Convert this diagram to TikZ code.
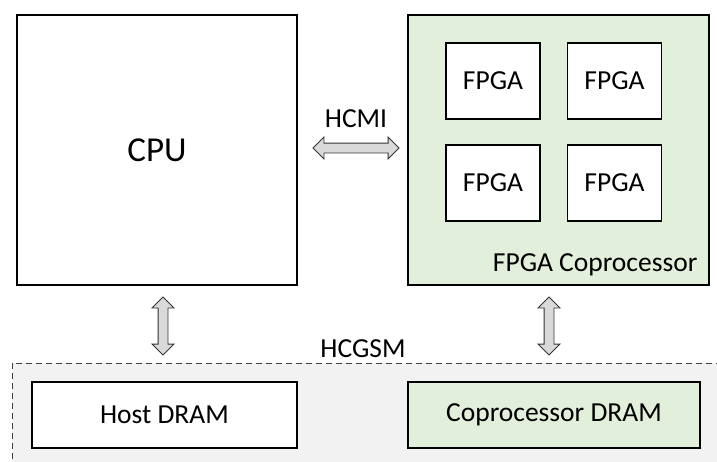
\documentclass[tikz,border=0pt]{standalone}
\usepackage{fontspec}
\setmainfont{Carlito}
\usetikzlibrary{shapes.arrows,calc,positioning}

\definecolor{copgreen}{HTML}{E2EFDA}
\definecolor{memgray}{HTML}{F2F2F2}
\definecolor{busgray}{HTML}{D9D9D9}

\begin{document}
\begin{tikzpicture}[
  x=1pt, y=-1pt,
  box/.style={draw=black, line width=1.2pt, fill=white, inner sep=0pt,
              font=\fontsize{27.5}{32}\selectfont},
  cop/.style={box, fill=copgreen},
  lbl/.style={font=\fontsize{27.5}{32}\selectfont, inner sep=0pt},
  bus/.style={double arrow, draw=black!80, fill=busgray, line width=0.9pt,
              inner xsep=0pt, inner ysep=4.5pt, minimum width=0pt,
              double arrow head extend=6pt, double arrow tip angle=90},
  vbus/.style={bus, inner xsep=4.5pt, inner ysep=0pt, shape border rotate=90}
]
\useasboundingbox (0,0) rectangle (717,461);
\clip (0,0) rectangle (717,461);
% shared memory region
\draw[fill=memgray, draw=black!75, line width=1pt, dash pattern=on 6pt off 4pt]
  (12,363) rectangle (740,490);
\node[lbl] (hcgsm) at (363,349) {HCGSM};
% host side
\node[box, minimum width=280, minimum height=270,
      font=\fontsize{35}{40}\selectfont] (cpu) at (157,150) {CPU};
\node[box, minimum width=265, minimum height=66] (hostdram) at (164.5,415) {Host DRAM};
% coprocessor side
\node[cop, minimum width=301, minimum height=270] (copro) at (558.5,150) {};
\node[lbl, anchor=south east] (coplbl) at ($(copro.south east)+(-12,-9)$) {FPGA Coprocessor};
\foreach \name/\x/\y in {f1/493/81, f2/614.5/81, f3/493/183, f4/614.5/183}
  \node[box, minimum width=94, minimum height=76] (\name) at (\x,\y) {FPGA};
\node[cop, minimum width=292, minimum height=66] (copdram) at (554,415) {Coprocessor DRAM};
% interconnects
\node[bus, minimum height=86] (hcmi) at (356,148) {};
\node[lbl, above=15pt of hcmi] (hcmilbl) {HCMI};
\node[vbus, minimum height=58] (hostbus) at (163,326) {};
\node[vbus, minimum height=58] (copbus) at (549,326) {};
\end{tikzpicture}
\end{document}
